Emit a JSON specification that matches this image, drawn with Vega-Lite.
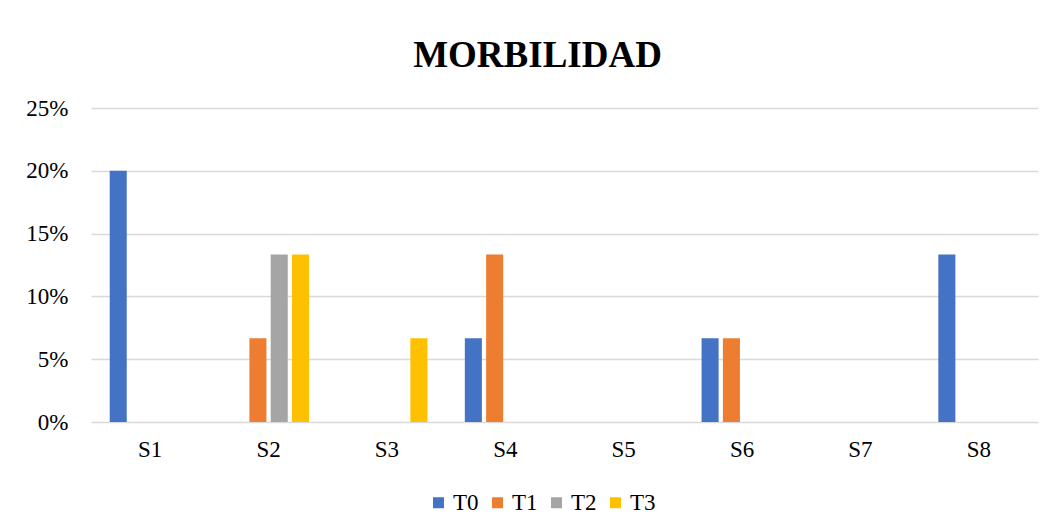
{
  "$schema": "https://vega.github.io/schema/vega-lite/v6.json",
  "autosize": {"type": "none"},
  "padding": {"left": 91, "top": 108, "right": 21, "bottom": 108},
  "width": 947,
  "height": 314,
  "background": "white",
  "title": {
    "text": "MORBILIDAD",
    "font": "Liberation Serif",
    "fontSize": 37,
    "fontWeight": "bold",
    "color": "#000000",
    "anchor": "middle",
    "dx": -27,
    "offset": 22
  },
  "data": {
    "values": [
      {"s": "S1", "t": "T0", "v": 0.2},
      {"s": "S1", "t": "T1", "v": 0},
      {"s": "S1", "t": "T2", "v": 0},
      {"s": "S1", "t": "T3", "v": 0},
      {"s": "S2", "t": "T0", "v": 0},
      {"s": "S2", "t": "T1", "v": 0.0667},
      {"s": "S2", "t": "T2", "v": 0.1333},
      {"s": "S2", "t": "T3", "v": 0.1333},
      {"s": "S3", "t": "T0", "v": 0},
      {"s": "S3", "t": "T1", "v": 0},
      {"s": "S3", "t": "T2", "v": 0},
      {"s": "S3", "t": "T3", "v": 0.0667},
      {"s": "S4", "t": "T0", "v": 0.0667},
      {"s": "S4", "t": "T1", "v": 0.1333},
      {"s": "S4", "t": "T2", "v": 0},
      {"s": "S4", "t": "T3", "v": 0},
      {"s": "S5", "t": "T0", "v": 0},
      {"s": "S5", "t": "T1", "v": 0},
      {"s": "S5", "t": "T2", "v": 0},
      {"s": "S5", "t": "T3", "v": 0},
      {"s": "S6", "t": "T0", "v": 0.0667},
      {"s": "S6", "t": "T1", "v": 0.0667},
      {"s": "S6", "t": "T2", "v": 0},
      {"s": "S6", "t": "T3", "v": 0},
      {"s": "S7", "t": "T0", "v": 0},
      {"s": "S7", "t": "T1", "v": 0},
      {"s": "S7", "t": "T2", "v": 0},
      {"s": "S7", "t": "T3", "v": 0},
      {"s": "S8", "t": "T0", "v": 0.1333},
      {"s": "S8", "t": "T1", "v": 0},
      {"s": "S8", "t": "T2", "v": 0},
      {"s": "S8", "t": "T3", "v": 0}
    ]
  },
  "mark": {"type": "bar"},
  "encoding": {
    "x": {
      "field": "s",
      "type": "nominal",
      "scale": {"paddingInner": 0.316, "paddingOuter": 0.158},
      "axis": {
        "title": null,
        "labelAngle": 0,
        "labelFont": "Liberation Serif",
        "labelFontSize": 23,
        "labelColor": "#000000",
        "labelPadding": 16,
        "ticks": false,
        "domain": false,
        "grid": false
      }
    },
    "xOffset": {
      "field": "t",
      "type": "nominal",
      "scale": {"paddingInner": 0.2, "paddingOuter": 0}
    },
    "y": {
      "field": "v",
      "type": "quantitative",
      "scale": {"domain": [0, 0.25], "nice": false},
      "axis": {
        "title": null,
        "format": ".0%",
        "values": [0, 0.05, 0.1, 0.15, 0.2, 0.25],
        "labelFont": "Liberation Serif",
        "labelFontSize": 23,
        "labelColor": "#000000",
        "labelPadding": 23,
        "ticks": false,
        "domain": false,
        "grid": true,
        "gridColor": "#D9D9D9",
        "gridWidth": 1.3
      }
    },
    "color": {
      "field": "t",
      "type": "nominal",
      "scale": {
        "domain": ["T0", "T1", "T2", "T3"],
        "range": ["#4472C4", "#ED7D31", "#A5A5A5", "#FFC000"]
      },
      "legend": {
        "title": null,
        "orient": "none",
        "direction": "horizontal",
        "legendX": 336,
        "legendY": 383,
        "symbolType": "square",
        "symbolSize": 121,
        "symbolStrokeWidth": 0,
        "labelFont": "Liberation Serif",
        "labelFontSize": 23,
        "labelColor": "#000000",
        "labelOffset": 3,
        "columnPadding": 7
      }
    }
  },
  "config": {
    "view": {"stroke": null}
  }
}
